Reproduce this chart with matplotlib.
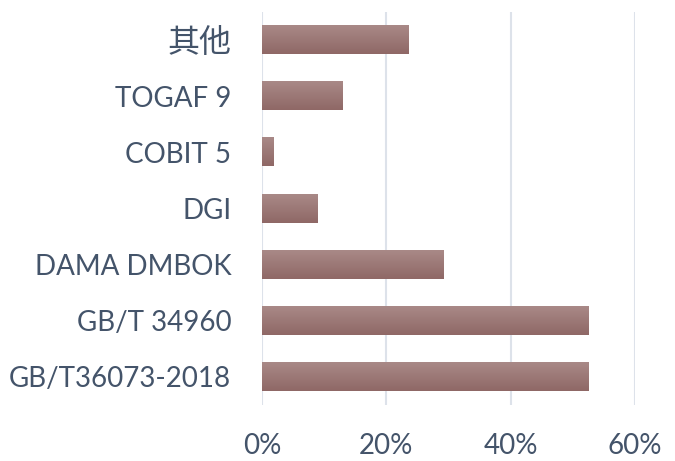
import matplotlib.pyplot as plt
import numpy as np
from matplotlib.colors import LinearSegmentedColormap

categories = ['GB/T36073-2018', 'GB/T 34960', 'DAMA DMBOK', 'DGI', 'COBIT 5', 'TOGAF 9', '其他']
shares = [52.5, 52.5, 29.1, 9.0, 1.8, 12.9, 23.5]
xticks = [0, 20, 40, 60]
xtick_labels = ['0%', '20%', '40%', '60%']

fonts = ['Lato', 'Noto Sans CJK SC', 'DejaVu Sans']
text_color = '#44546A'
bar_height = 0.5

fig = plt.figure(figsize=(6.75, 4.61), dpi=100)
ax = fig.add_axes([0.388, 0.1215, 0.553, 0.8525])

pos = np.arange(len(categories))
bars = ax.barh(pos, shares, height=bar_height, color='#9C7775', zorder=2)

# vertical gradient on each bar: lighter on top, darker at the bottom
grad = LinearSegmentedColormap.from_list('bar', ['#A98987', '#8F6866'])
g = np.linspace(0, 1, 64).reshape(-1, 1)
for b in bars:
    x0, y0 = b.get_x(), b.get_y()
    w, h = b.get_width(), b.get_height()
    ax.imshow(g, cmap=grad, aspect='auto', origin='lower',
              extent=[x0, x0 + w, y0 + h, y0], zorder=3)

ax.set_xlim(0, 60)
ax.set_ylim(-0.5, len(categories) - 0.5)
ax.set_xticks(xticks)
ax.set_xticklabels(xtick_labels)
ax.set_yticks(pos)
ax.set_yticklabels(categories)
for lab in ax.get_xticklabels() + ax.get_yticklabels():
    lab.set_family(fonts)
    lab.set_fontsize(20)
    lab.set_color(text_color)
    if lab.get_text() == '其他':
        lab.set_fontsize(23)

ax.tick_params(axis='both', length=0)
ax.tick_params(axis='x', pad=20)
ax.tick_params(axis='y', pad=22)
ax.grid(axis='x', color='#DDE2EA', linewidth=1.5, zorder=0)
for s in ax.spines.values():
    s.set_visible(False)

fig.savefig('out.png', dpi=100)
